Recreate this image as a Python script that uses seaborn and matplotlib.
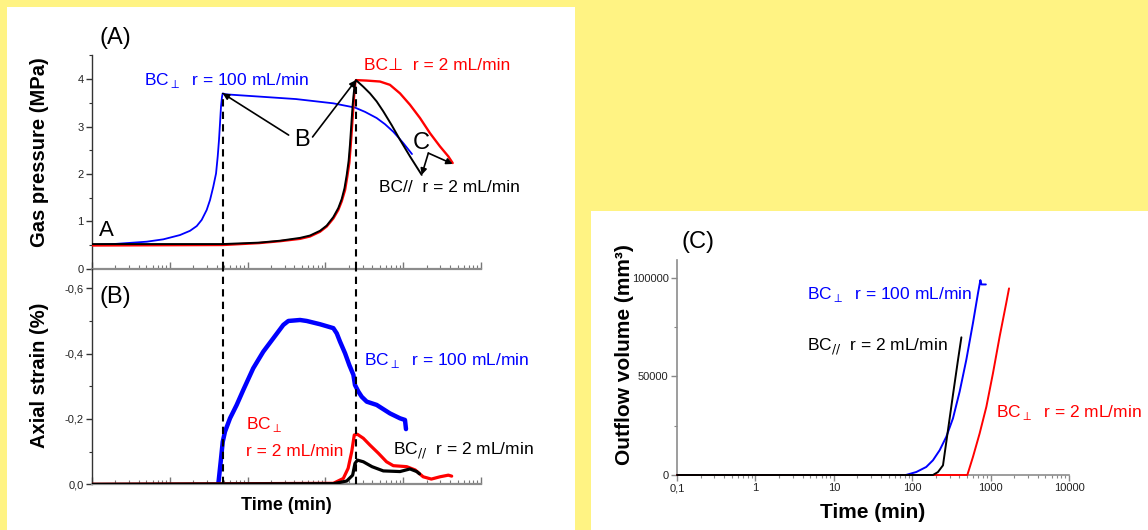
import matplotlib
matplotlib.use('Agg')
import matplotlib.pyplot as plt
import seaborn as sns
import pandas as pd
from matplotlib.patches import Rectangle
from matplotlib.ticker import LogLocator, NullFormatter, FixedLocator, FixedFormatter, MultipleLocator

sns.set_theme(style='white')
plt.rcParams['font.family'] = ['Liberation Sans', 'DejaVu Sans']
plt.rcParams['mathtext.fontset'] = 'dejavusans'
plt.rcParams['text.color'] = 'black'

# ---------------- data ----------------
# (A) gas pressure (MPa) vs time (min)
pA_blue_t = [0.1, 0.188, 0.505, 0.826, 1.35, 1.82, 2.22, 2.57, 2.98, 3.29, 3.62, 3.93, 4.13, 4.29, 4.42,
             4.55, 4.69, 4.79, 5.23, 41.9, 126.5, 240, 323, 456, 583, 746, 857, 1003, 1297]
pA_blue_p = [0.50, 0.52, 0.57, 0.62, 0.71, 0.80, 0.90, 1.03, 1.24, 1.45, 1.73, 2.01, 2.37, 2.72, 3.07,
             3.42, 3.63, 3.70, 3.68, 3.58, 3.49, 3.40, 3.31, 3.18, 3.05, 2.89, 2.78, 2.65, 2.42]
pA_red_t = [0.1, 4.8, 14.0, 26.0, 47.2, 63.4, 85.3, 104, 126.5, 146.5, 162, 179, 191, 203, 211, 220, 229,
            235, 242, 247, 340, 503, 676, 910, 1222, 1644, 2210, 2972, 3802, 4325]
pA_red_p = [0.49, 0.50, 0.54, 0.58, 0.63, 0.68, 0.78, 0.89, 1.06, 1.24, 1.42, 1.66, 1.94, 2.23, 2.58, 3.00, 3.42,
            3.70, 3.92, 3.98, 3.97, 3.95, 3.88, 3.70, 3.46, 3.18, 2.86, 2.58, 2.37, 2.23]
pA_black_t = [0.1, 4.8, 14.0, 26.0, 47.2, 63.4, 85.3, 104, 126.5, 146.5, 162, 176, 188, 199, 207, 215, 224,
              232, 240, 247, 307, 374, 456, 555, 711, 910, 1222, 1729]
pA_black_p = [0.52, 0.52, 0.55, 0.59, 0.65, 0.70, 0.80, 0.91, 1.09, 1.28, 1.47, 1.70, 1.98, 2.28, 2.62, 3.02, 3.45,
              3.72, 3.92, 3.98, 3.84, 3.70, 3.53, 3.32, 3.03, 2.72, 2.37, 1.98]

# (B) axial strain (%) vs time (min)
sB_blue_t = [4.20, 4.51, 4.79, 5.12, 5.94, 7.24, 8.81, 11.8, 15.9, 21.4, 28.8, 33.4, 47.2, 57.5, 85.3, 126.5,
             140, 154, 179, 203, 229, 240, 265, 293, 340, 456, 676, 910, 1054, 1086]
sB_blue_e = [0, -0.069, -0.130, -0.161, -0.202, -0.243, -0.289, -0.355, -0.406, -0.447, -0.488, -0.500, -0.503,
             -0.500, -0.490, -0.478, -0.462, -0.437, -0.401, -0.365, -0.335, -0.304, -0.284, -0.268, -0.253,
             -0.243, -0.217, -0.202, -0.197, -0.169]
sB_red_t = [0.1, 126.5, 170, 196, 218, 235, 258, 307, 374, 480, 610, 746, 1109, 1424, 1806, 2300, 2972, 3802, 4200]
sB_red_e = [0, -0.003, -0.018, -0.049, -0.100, -0.151, -0.153, -0.141, -0.120, -0.095, -0.069, -0.057, -0.054,
            -0.044, -0.023, -0.016, -0.023, -0.028, -0.025]
sB_black_t = [0.1, 126.5, 188, 224, 240, 258, 307, 397, 555, 910, 1222, 1492, 1620]
sB_black_e = [0, -0.002, -0.010, -0.028, -0.064, -0.074, -0.069, -0.054, -0.041, -0.039, -0.047, -0.039, -0.032]

# breakthrough times (dashed lines)
t_break = [4.79, 247]
p_break = [3.70, 3.98]

# (C) outflow volume (mm3) vs time (min)
vC_blue_t = [0.1, 83, 113, 151, 184, 224, 272, 331, 403, 490, 596, 692, 741, 765, 870]
vC_blue_v = [0, 0, 1530, 4070, 7470, 12560, 19350, 28700, 42300, 58400, 77100, 92400, 98800, 96600, 96600]
vC_red_t = [0.1, 505, 596, 724, 883, 1072, 1306, 1585, 1718]
vC_red_v = [0, 0, 9200, 21000, 34600, 51600, 70300, 87300, 94600]
vC_black_t = [0.1, 184, 213, 247, 286, 331, 384, 424]
vC_black_v = [0, 0, 1500, 4900, 22750, 40600, 58400, 69800]

c_ticks = [0.1, 1, 10, 100, 1000, 10000]
c_ticklabels = ['0,1', '1', '10', '100', '1000', '10000']
c_yticks = [0, 50000, 100000]
c_yticklabels = ['0', '50000', '100000']
a_yticks = [0, 1, 2, 3, 4]
a_yticklabels = ['0', '1', '2', '3', '4']
b_yticks = [0, -0.2, -0.4, -0.6]
b_yticklabels = ['0,0', '-0,2', '-0,4', '-0,6']

BLUE = '#0000ff'
RED = '#ff0000'
BLACK = '#000000'

W, H = 1148, 530
def fx(px):
    return px / W
def fy(py):
    return 1 - py / H

fig = plt.figure(figsize=(11.48, 5.30), dpi=100)
fig.patch.set_facecolor('#FFF383')
fig.patches.append(Rectangle((fx(7), 0), fx(575) - fx(7), fy(7), transform=fig.transFigure,
                             facecolor='white', edgecolor='none', zorder=-10))
fig.patches.append(Rectangle((fx(591), 0), 1 - fx(591), fy(211), transform=fig.transFigure,
                             facecolor='white', edgecolor='none', zorder=-10))

axA = fig.add_axes([fx(92), fy(268.7), fx(481) - fx(92), fy(55) - fy(268.7)])
axB = fig.add_axes([fx(92), fy(484.3), fx(481) - fx(92), fy(268.7) - fy(484.3)])
axC = fig.add_axes([fx(677), fy(475), fx(1069) - fx(677), fy(260) - fy(475)])

for ax in (axA, axB, axC):
    ax.set_facecolor('none')
    ax.patch.set_alpha(0)
    ax.spines['top'].set_visible(False)
    ax.spines['right'].set_visible(False)

def line(ax, t, v, color, lw, z=2):
    df = pd.DataFrame({'t': t, 'v': v})
    sns.lineplot(data=df, x='t', y='v', ax=ax, color=color, linewidth=lw, sort=False,
                 estimator=None, legend=False, zorder=z)

# ---- Panel A ----
line(axA, pA_blue_t, pA_blue_p, BLUE, 1.3, 2)
line(axA, pA_red_t, pA_red_p, RED, 1.7, 3)
line(axA, pA_black_t, pA_black_p, BLACK, 1.4, 4)
for t, p in zip(t_break, p_break):
    axA.plot([t, t], [0, p], color='black', lw=1.5, ls=(0, (3.5, 2.5)), clip_on=False, zorder=5)

# ---- Panel B ----
line(axB, sB_blue_t, sB_blue_e, BLUE, 3.2, 2)
line(axB, sB_red_t, sB_red_e, RED, 2.3, 3)
line(axB, sB_black_t, sB_black_e, BLACK, 2.3, 4)
for t in t_break:
    axB.axvline(t, color='black', lw=1.5, ls=(0, (3.5, 2.5)), zorder=5)

# ---- Panel C ----
line(axC, vC_blue_t, vC_blue_v, BLUE, 1.4, 2)
line(axC, vC_red_t, vC_red_v, RED, 1.4, 3)
line(axC, vC_black_t, vC_black_v, BLACK, 1.4, 4)
for l in axC.lines:
    l.set_clip_on(False)

# axes formatting A and B
for ax in (axA, axB):
    ax.set_xscale('log')
    ax.set_xlim(0.1, 10000)
    ax.xaxis.set_major_locator(LogLocator(base=10))
    ax.xaxis.set_minor_locator(LogLocator(base=10, subs=range(2, 10)))
    ax.xaxis.set_major_formatter(NullFormatter())
    ax.xaxis.set_minor_formatter(NullFormatter())
    ax.tick_params(axis='x', which='major', direction='in', length=5, width=1, color='#777777', bottom=True)
    ax.tick_params(axis='x', which='minor', direction='in', length=3, width=0.8, color='#777777', bottom=True)
    ax.tick_params(axis='y', which='major', direction='out', length=4, width=1, color='#333333',
                   labelsize=8, labelcolor='#222222', pad=2, left=True)
    ax.tick_params(axis='y', which='minor', direction='out', length=2.5, width=0.8, color='#333333', left=True)
    ax.spines['bottom'].set_color('#8c8c8c')
    ax.spines['bottom'].set_linewidth(1.6)
    ax.spines['left'].set_color('#333333')
    ax.spines['left'].set_linewidth(1.0)
    ax.set_xlabel('')
    ax.set_ylabel('')

axA.set_ylim(0, 4.51)
axA.yaxis.set_major_locator(FixedLocator(a_yticks))
axA.yaxis.set_major_formatter(FixedFormatter(a_yticklabels))
axA.yaxis.set_minor_locator(MultipleLocator(0.5))

axB.set_ylim(0, -0.66)
axB.yaxis.set_major_locator(FixedLocator(b_yticks))
axB.yaxis.set_major_formatter(FixedFormatter(b_yticklabels))
axB.yaxis.set_minor_locator(FixedLocator([-0.1, -0.3, -0.5]))

# axes formatting C
axC.set_xscale('log')
axC.set_xlim(0.1, 10000)
axC.set_ylim(0, 109000)
axC.xaxis.set_major_locator(FixedLocator(c_ticks))
axC.xaxis.set_major_formatter(FixedFormatter(c_ticklabels))
axC.xaxis.set_minor_locator(LogLocator(base=10, subs=range(2, 10)))
axC.xaxis.set_minor_formatter(NullFormatter())
axC.yaxis.set_major_locator(FixedLocator(c_yticks))
axC.yaxis.set_major_formatter(FixedFormatter(c_yticklabels))
axC.yaxis.set_minor_locator(FixedLocator([25000, 75000]))
axC.tick_params(axis='both', which='major', direction='out', length=4, width=1, color='#888888',
                labelsize=8, labelcolor='#222222', pad=2, bottom=True, left=True)
axC.tick_params(axis='both', which='minor', direction='out', length=2.5, width=0.8, color='#888888',
                bottom=True, left=True)
for s in ('bottom', 'left'):
    axC.spines[s].set_color('#8c8c8c')
    axC.spines[s].set_linewidth(1.2)
axC.set_xlabel('')
axC.set_ylabel('')

# annotations in A
arrow = dict(arrowstyle='-|>', color='black', lw=1.2, mutation_scale=9, shrinkA=0, shrinkB=0)
axA.annotate('', xy=(4.79, 3.70), xytext=(33.7, 2.82), arrowprops=arrow, zorder=6)
axA.annotate('', xy=(247, 3.98), xytext=(68.4, 2.78), arrowprops=arrow, zorder=6)
axA.annotate('', xy=(1729, 1.98), xytext=(2105, 2.44), arrowprops=arrow, zorder=6)
axA.annotate('', xy=(4325, 2.21), xytext=(2105, 2.44), arrowprops=arrow, zorder=6)

# texts
fs = 12.5
fig.text(fx(115), fy(38), '(A)', fontsize=17, ha='center', va='center')
fig.text(fx(115), fy(297), '(B)', fontsize=17, ha='center', va='center')
fig.text(fx(698), fy(242), '(C)', fontsize=17, ha='center', va='center')
fig.text(fx(106), fy(230), 'A', fontsize=16, ha='center', va='center')
fig.text(fx(301.5), fy(140), 'B', fontsize=17, ha='center', va='center')
fig.text(fx(421.7), fy(143), 'C', fontsize=17, ha='center', va='center')

fig.text(fx(143.5), fy(80), r'BC$_{\perp}$  r = 100 mL/min', color=BLUE, fontsize=fs, ha='left', va='center')
fig.text(fx(364), fy(66), 'BC\u22a5  r = 2 mL/min', color=RED, fontsize=fs, ha='left', va='center')
fig.text(fx(379), fy(188), 'BC//  r = 2 mL/min', color=BLACK, fontsize=fs, ha='left', va='center')

fig.text(fx(364), fy(360), r'BC$_{\perp}$  r = 100 mL/min', color=BLUE, fontsize=fs, ha='left', va='center')
fig.text(fx(246), fy(425), r'BC$_{\perp}$', color=RED, fontsize=fs, ha='left', va='center')
fig.text(fx(246), fy(451), 'r = 2 mL/min', color=RED, fontsize=fs, ha='left', va='center')
fig.text(fx(393), fy(451), r'BC$_{//}$  r = 2 mL/min', color=BLACK, fontsize=fs, ha='left', va='center')

fig.text(fx(807), fy(294), r'BC$_{\perp}$  r = 100 mL/min', color=BLUE, fontsize=fs, ha='left', va='center')
fig.text(fx(807), fy(347), r'BC$_{//}$  r = 2 mL/min', color=BLACK, fontsize=fs, ha='left', va='center')
fig.text(fx(996), fy(413), r'BC$_{\perp}$  r = 2 mL/min', color=RED, fontsize=fs, ha='left', va='center')

# axis titles
fig.text(fx(40), fy(152), 'Gas pressure (MPa)', fontsize=14.5, fontweight='bold', rotation=90, ha='center', va='center')
fig.text(fx(40), fy(375), 'Axial strain (%)', fontsize=14.5, fontweight='bold', rotation=90, ha='center', va='center')
fig.text(fx(286), fy(505), 'Time (min)', fontsize=13, fontweight='bold', ha='center', va='center')
fig.text(fx(624), fy(355), 'Outflow volume (mm\u00b3)', fontsize=15, fontweight='bold', rotation=90, ha='center', va='center')
fig.text(fx(873), fy(512), 'Time (min)', fontsize=15, fontweight='bold', ha='center', va='center')

fig.savefig('out.png', dpi=100, facecolor=fig.get_facecolor())
